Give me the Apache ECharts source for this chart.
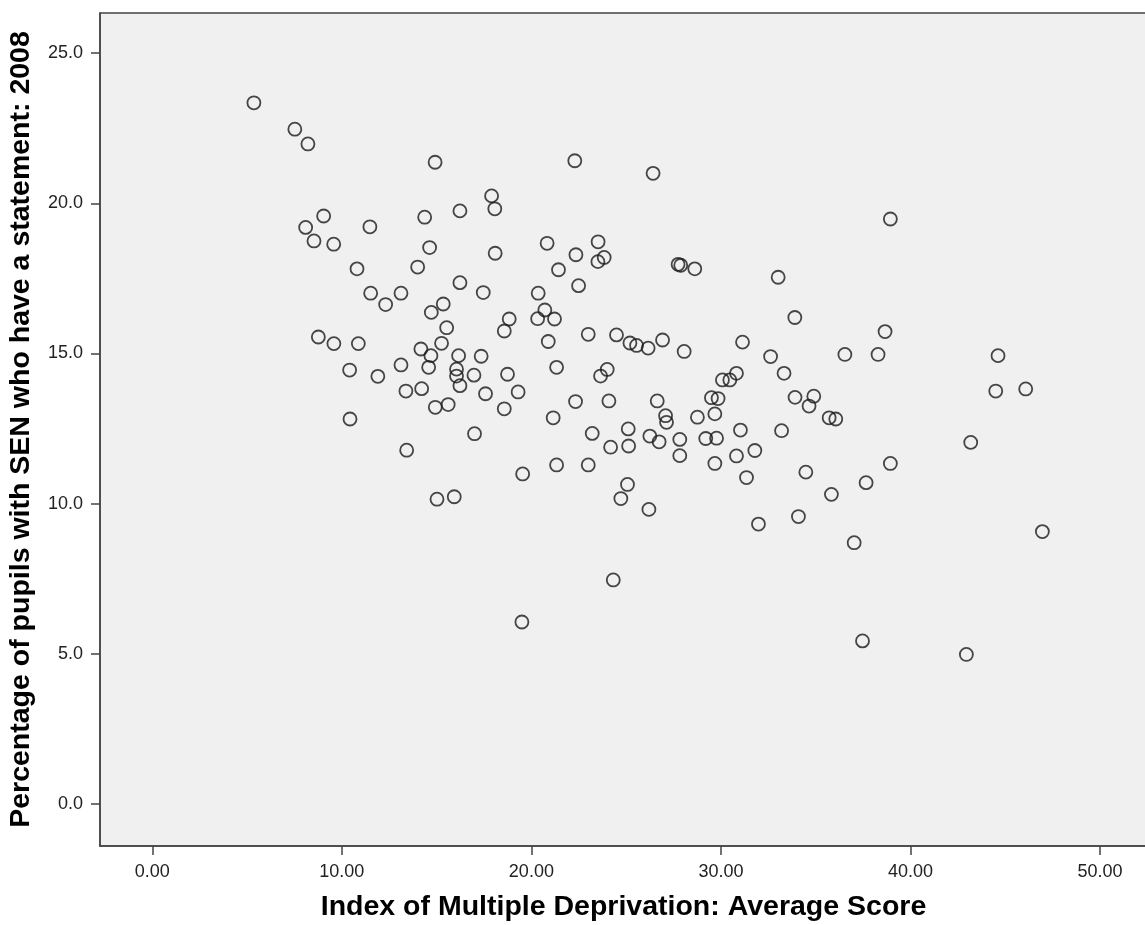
<!DOCTYPE html>
<html>
<head>
<meta charset="utf-8">
<script src="https://cdn.jsdelivr.net/npm/echarts@6/dist/echarts.min.js"></script>
<style>
  html, body { margin: 0; padding: 0; background: #ffffff; }
  #chart { width: 1145px; height: 925px; }
</style>
</head>
<body>
<div id="chart"></div>
<script>
// Index of Multiple Deprivation: Average Score
const imdScore = [
  5.36, 7.52, 8.21, 14.92, 17.90, 18.07, 16.23, 14.37, 9.04, 8.09,
  11.48, 8.53, 9.57, 14.63, 18.09, 10.80, 14.00, 16.23, 11.52, 13.12,
  17.46, 12.31, 14.72, 15.35, 18.83, 18.57, 15.53, 8.76, 9.58, 10.87,
  14.17, 15.26, 14.70, 16.16, 17.35, 14.58, 16.05, 16.05, 16.23, 16.97,
  13.12, 10.41, 11.90, 18.74, 19.30, 17.58, 13.38, 14.21, 14.93, 15.61,
  18.57, 10.43, 17.00, 13.42, 19.54, 15.02, 15.93, 19.50, 22.29, 26.42,
  20.83, 23.52, 22.35, 23.84, 23.51, 21.43, 27.74, 27.88, 28.62, 33.02,
  22.49, 20.36, 20.71, 20.33, 21.22, 33.90, 20.89, 23.00, 24.49, 25.20,
  25.55, 26.16, 26.92, 28.06, 31.14, 21.33, 24.00, 23.65, 32.62, 33.33,
  30.82, 30.47, 30.08, 22.33, 24.09, 26.64, 29.50, 29.85, 33.91, 34.90,
  34.65, 21.15, 27.08, 27.13, 28.76, 29.68, 23.21, 25.11, 26.25, 26.74,
  27.83, 29.20, 29.77, 31.03, 33.20, 24.18, 25.13, 27.83, 30.82, 31.79,
  21.33, 23.00, 29.68, 34.48, 31.35, 25.07, 24.72, 26.20, 35.83, 34.09,
  31.98, 24.32, 38.94, 38.66, 36.54, 38.29, 44.62, 35.71, 36.06, 44.50,
  46.08, 43.18, 38.94, 37.66, 37.03, 46.96, 37.47, 42.95
];
// Percentage of pupils with SEN who have a statement: 2008
const senStatement = [
  23.35, 22.47, 21.98, 21.37, 20.25, 19.82, 19.75, 19.54, 19.58, 19.20,
  19.22, 18.75, 18.64, 18.53, 18.34, 17.82, 17.88, 17.36, 17.01, 17.01,
  17.03, 16.63, 16.37, 16.65, 16.15, 15.75, 15.86, 15.55, 15.33, 15.33,
  15.15, 15.34, 14.93, 14.93, 14.91, 14.54, 14.48, 14.25, 13.93, 14.28,
  14.62, 14.45, 14.24, 14.31, 13.72, 13.66, 13.75, 13.83, 13.21, 13.30,
  13.16, 12.82, 12.33, 11.78, 10.99, 10.15, 10.23, 6.06, 21.42, 21.00,
  18.67, 18.72, 18.29, 18.20, 18.06, 17.79, 17.97, 17.94, 17.82, 17.54,
  17.26, 17.01, 16.45, 16.16, 16.15, 16.20, 15.40, 15.64, 15.62, 15.35,
  15.27, 15.18, 15.45, 15.07, 15.38, 14.54, 14.47, 14.25, 14.90, 14.34,
  14.34, 14.12, 14.12, 13.40, 13.42, 13.42, 13.53, 13.50, 13.54, 13.58,
  13.25, 12.86, 12.93, 12.71, 12.88, 12.99, 12.34, 12.49, 12.25, 12.06,
  12.14, 12.17, 12.18, 12.45, 12.43, 11.88, 11.92, 11.60, 11.59, 11.77,
  11.29, 11.29, 11.34, 11.05, 10.87, 10.64, 10.17, 9.81, 10.31, 9.57,
  9.32, 7.46, 19.48, 15.73, 14.97, 14.97, 14.93, 12.86, 12.82, 13.75,
  13.82, 12.04, 11.34, 10.70, 8.70, 9.07, 5.43, 4.98
];
const xTicks = [0, 10, 20, 30, 40, 50];
const yTicks = [0, 5, 10, 15, 20, 25];
const xTitle = 'Index of Multiple Deprivation: Average Score';
const yTitle = 'Percentage of pupils with SEN who have a statement: 2008';

const points = imdScore.map((x, i) => [x, senStatement[i]]);

const FONT = "'Liberation Sans', Arial, sans-serif";
const chart = echarts.init(document.getElementById('chart'), null, { renderer: 'canvas' });
chart.setOption({
  animation: false,
  backgroundColor: '#ffffff',
  grid: {
    left: 100, top: 13, right: -2, bottom: 79,
    containLabel: false,
    outerBoundsMode: 'none',
    show: true,
    backgroundColor: '#f0f0f0',
    borderColor: '#444444',
    borderWidth: 1.5
  },
  xAxis: {
    type: 'value',
    min: -2.76, max: 52.48,
    splitLine: { show: false },
    axisLine: { show: true, onZero: false, lineStyle: { color: '#444444', width: 1.5 } },
    axisTick: { show: true, inside: false, customValues: xTicks, length: 9, lineStyle: { color: '#444444', width: 1.5 } },
    axisLabel: {
      customValues: xTicks, margin: 17,
      formatter: v => Number(v).toFixed(2),
      fontFamily: FONT, fontSize: 18, color: '#222222'
    },
    name: xTitle, nameLocation: 'middle', nameGap: 47,
    nameTextStyle: { fontFamily: FONT, fontSize: 28.5, fontWeight: 'bold', color: '#000000' }
  },
  yAxis: {
    type: 'value',
    min: -1.40, max: 26.34,
    splitLine: { show: false },
    axisLine: { show: true, onZero: false, lineStyle: { color: '#444444', width: 1.5 } },
    axisTick: { show: true, inside: false, customValues: yTicks, length: 9, lineStyle: { color: '#444444', width: 1.5 } },
    axisLabel: {
      customValues: yTicks, margin: 17,
      formatter: v => Number(v).toFixed(1),
      fontFamily: FONT, fontSize: 18, color: '#222222'
    },
    name: yTitle, nameLocation: 'middle', nameGap: 64, nameRotate: 90,
    nameTextStyle: { fontFamily: FONT, fontSize: 28.5, fontWeight: 'bold', color: '#000000' }
  },
  series: [{
    type: 'scatter',
    data: points,
    symbol: 'circle',
    symbolSize: 13,
    itemStyle: { color: 'rgba(0,0,0,0)', borderColor: '#1a1a1a', borderWidth: 1.8 },
    emphasis: { disabled: true }
  }]
});
</script>
</body>
</html>
